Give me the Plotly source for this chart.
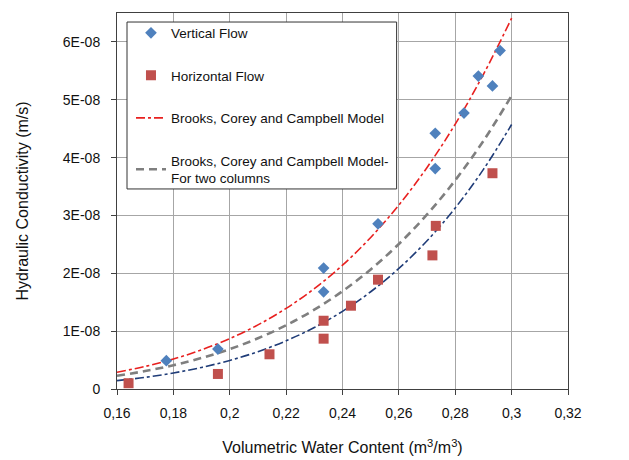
import plotly.graph_objects as go

# Measured data (K in units of 1E-08 m/s)
vert_theta = [0.1775, 0.1958, 0.2333, 0.2333, 0.2526, 0.2729, 0.2729, 0.2831, 0.2882, 0.2932, 0.2959]
vert_k = [0.49, 0.69, 2.09, 1.68, 2.855, 4.42, 3.81, 4.77, 5.41, 5.24, 5.85]

horiz_theta = [0.1641, 0.1958, 0.2141, 0.2333, 0.2333, 0.2430, 0.2526, 0.2719, 0.2731, 0.2932]
horiz_k = [0.10, 0.26, 0.60, 1.18, 0.87, 1.44, 1.89, 2.31, 2.82, 3.73]

# Model curves
model_theta = [0.16, 0.17, 0.18, 0.19, 0.20, 0.21, 0.22, 0.23, 0.24, 0.25, 0.26, 0.27, 0.28, 0.29, 0.30]
bcc_k = [0.29, 0.391, 0.518, 0.677, 0.871, 1.108, 1.394, 1.735, 2.14, 2.62, 3.18, 3.83, 4.58, 5.44, 6.41]
bcc2_k = [0.23, 0.310, 0.411, 0.536, 0.689, 0.877, 1.102, 1.371, 1.691, 2.067, 2.507, 3.017, 3.609, 4.290, 5.07]
bcc3_k = [0.145, 0.202, 0.277, 0.373, 0.494, 0.645, 0.833, 1.063, 1.343, 1.681, 2.084, 2.563, 3.131, 3.796, 4.572]

x_ticks = [0.16, 0.18, 0.20, 0.22, 0.24, 0.26, 0.28, 0.30, 0.32]
x_ticktext = ["0,16", "0,18", "0,2", "0,22", "0,24", "0,26", "0,28", "0,3", "0,32"]
y_ticks = [0, 1, 2, 3, 4, 5, 6]
y_ticktext = ["0", "1E-08", "2E-08", "3E-08", "4E-08", "5E-08", "6E-08"]

E = 1e-8
fig = go.Figure()
fig.add_trace(go.Scatter(x=model_theta, y=[v * E for v in bcc3_k], mode="lines",
                         line=dict(color="#1F3C78", width=1.6, dash="dashdot", shape="spline"),
                         showlegend=False))
fig.add_trace(go.Scatter(x=model_theta, y=[v * E for v in bcc2_k], mode="lines",
                         line=dict(color="#7F7F7F", width=2.6, dash="8px,5px", shape="spline"),
                         name="Brooks, Corey and Campbell Model-<br>For two columns",
                         legendgroup="d", legendrank=4))
fig.add_trace(go.Scatter(x=model_theta, y=[v * E for v in bcc_k], mode="lines",
                         line=dict(color="#E8201F", width=1.6, dash="dashdot", shape="spline"),
                         name="Brooks, Corey and Campbell Model",
                         legendgroup="c", legendrank=3))
fig.add_trace(go.Scatter(x=horiz_theta, y=[v * E for v in horiz_k], mode="markers",
                         marker=dict(symbol="square", size=10, color="#C0504D"),
                         name="Horizontal Flow", legendgroup="b", legendrank=2))
fig.add_trace(go.Scatter(x=vert_theta, y=[v * E for v in vert_k], mode="markers",
                         marker=dict(symbol="diamond", size=9, color="#4F81BD"),
                         name="Vertical Flow", legendgroup="a", legendrank=1))

# legend frame
fig.add_shape(type="rect", xref="paper", yref="paper", x0=0.0222, x1=0.62, y0=0.532, y1=0.976,
              line=dict(color="#333333", width=1), fillcolor="white", layer="above")

fig.update_layout(
    width=629, height=460,
    margin=dict(l=117, r=61, t=13, b=71),
    paper_bgcolor="white", plot_bgcolor="white",
    font=dict(family="Liberation Sans, Arial, sans-serif", size=14, color="#111111"),
    legend=dict(x=0.031, y=0.988, xanchor="left", yanchor="top",
                bgcolor="rgba(0,0,0,0)", borderwidth=0,
                font=dict(size=13.5), tracegroupgap=22, traceorder="grouped"),
    xaxis=dict(range=[0.16, 0.32], tickvals=x_ticks, ticktext=x_ticktext,
               showgrid=True, gridcolor="#A6A6A6", gridwidth=1,
               showline=True, linecolor="#404040", linewidth=1, mirror=True,
               ticks="outside", ticklen=5, tickcolor="#404040", zeroline=False,
               tickfont=dict(size=14), ticklabelstandoff=6, automargin=False,
               title=dict(text="Volumetric Water Content (m<sup>3</sup>/m<sup>3</sup>)",
                          font=dict(size=16), standoff=22)),
    yaxis=dict(range=[0, 6.5e-8], tickvals=[v * E for v in y_ticks], ticktext=y_ticktext,
               showgrid=True, gridcolor="#A6A6A6", gridwidth=1,
               showline=True, linecolor="#404040", linewidth=1, mirror=True,
               ticks="outside", ticklen=5, tickcolor="#404040", zeroline=False,
               tickfont=dict(size=14), ticklabelstandoff=8, automargin=False,
               title=dict(text="Hydraulic Conductivity (m/s)", font=dict(size=16), standoff=30)),
)

fig.write_html("out.html", post_script="document.body.style.margin='0';",
               config={"displayModeBar": False})
